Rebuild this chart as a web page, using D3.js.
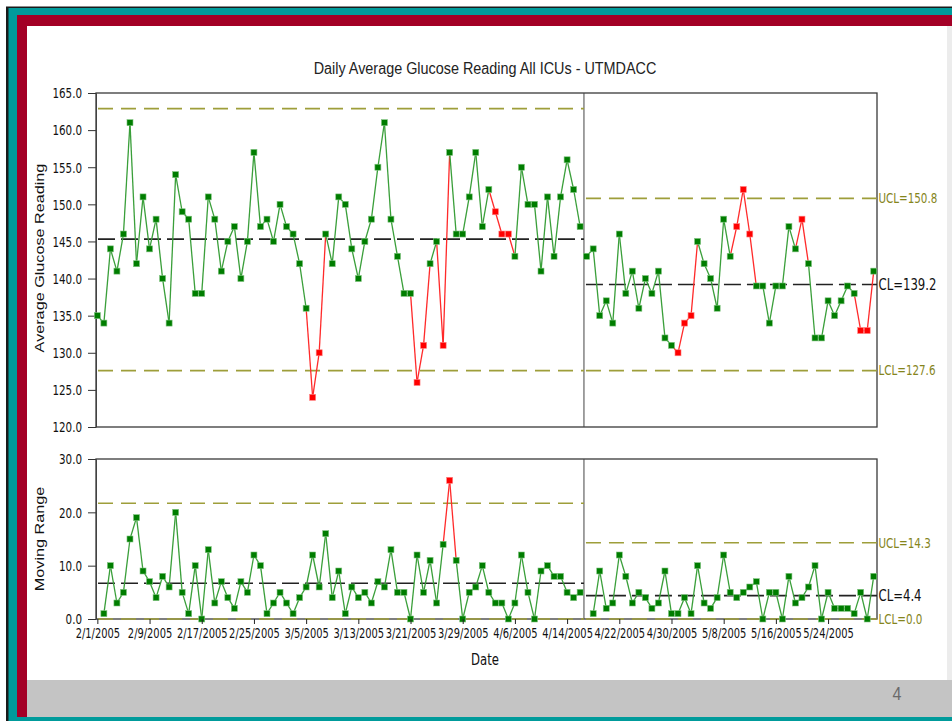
<!DOCTYPE html>
<html>
<head>
<meta charset="utf-8">
<script src="https://cdn.jsdelivr.net/npm/d3@7"></script>
<style>
  body { margin: 0; background: #fff; overflow: hidden; }
  svg { display: block; }
  text { font-family: "Liberation Sans Narrow", "Arial Narrow", "DejaVu Sans Condensed", sans-serif; }
  .reg { font-family: "Liberation Sans", Arial, sans-serif; }
</style>
</head>
<body>
<div id="chart"></div>
<script>
// phase starts (new control limits from 4/17)
const phaseStarts = ["2005-02-01", "2005-04-17"];

// daily average glucose, phase 1: 2/1 - 4/16
const glucosePhase1 = [135, 134, 144, 141, 146, 161, 142, 151, 144, 148,
  140, 134, 154, 149, 148, 138, 138, 151, 148, 141,
  145, 147, 140, 145, 157, 147, 148, 145, 150, 147,
  146, 142, 136, 124, 130, 146, 142, 151, 150, 144,
  140, 145, 148, 155, 161, 148, 143, 138, 138, 126,
  131, 142, 145, 131, 157, 146, 146, 151, 157, 147,
  152, 149, 146, 146, 143, 155, 150, 150, 141, 151,
  143, 151, 156, 152, 147];
// phase 2: 4/17 - 5/31
const glucosePhase2 = [143, 144, 135, 137, 134, 146, 138, 141, 136, 140,
  138, 141, 132, 131, 130, 134, 135, 145, 142, 140,
  136, 148, 143, 147, 152, 146, 139, 139, 134, 139,
  139, 147, 144, 148, 142, 132, 132, 137, 135, 137,
  139, 138, 133, 133, 141];

// moving range, each phase starts the day after its first day
const rangePhase1 = [1, 10, 3, 5, 15, 19, 9, 7, 4, 8,
  6, 20, 5, 1, 10, 0, 13, 3, 7, 4,
  2, 7, 5, 12, 10, 1, 3, 5, 3, 1,
  4, 6, 12, 6, 16, 4, 9, 1, 6, 4,
  5, 3, 7, 6, 13, 5, 5, 0, 12, 5,
  11, 3, 14, 26, 11, 0, 5, 6, 10, 5,
  3, 3, 0, 3, 12, 5, 0, 9, 10, 8,
  8, 5, 4, 5];
const rangePhase2 = [1, 9, 2, 3, 12, 8, 3, 5, 4, 2,
  3, 9, 1, 1, 4, 1, 10, 3, 2, 4,
  12, 5, 4, 5, 6, 7, 0, 5, 5, 0,
  8, 3, 4, 6, 10, 0, 5, 2, 2, 2,
  1, 5, 0, 8];

// out of control points (red)
const glucoseFlagged = ["2005-03-06", "2005-03-07", "2005-03-22", "2005-03-23", "2005-03-26",
  "2005-04-03", "2005-04-04", "2005-04-05", "2005-05-01", "2005-05-02", "2005-05-03",
  "2005-05-10", "2005-05-11", "2005-05-12", "2005-05-20", "2005-05-29", "2005-05-30"];
const rangeFlagged = ["2005-03-27"];

// control limits per phase
const glucoseUCL = [162.9, 150.8];
const glucoseCL = [145.3, 139.2];
const glucoseLCL = [127.6, 127.6];
const rangeUCL = [21.7, 14.3];
const rangeCL = [6.7, 4.4];
const rangeLCL = [0, 0];

const glucoseTicks = [120, 125, 130, 135, 140, 145, 150, 155, 160, 165];
const rangeTicks = [0, 10, 20, 30];
const dateTicks = ["2005-02-01", "2005-02-09", "2005-02-17", "2005-02-25", "2005-03-05",
  "2005-03-13", "2005-03-21", "2005-03-29", "2005-04-06", "2005-04-14", "2005-04-22",
  "2005-04-30", "2005-05-08", "2005-05-16", "2005-05-24"];

const width = 952, height = 721;
const K = 1.2; // the slide is stretched vertically
const plotL = 96, plotR = 877;
const parse = d3.utcParse("%Y-%m-%d");
const iso = d3.utcFormat("%Y-%m-%d");
const fmtDate = d3.utcFormat("%-m/%-d/%Y");
const green = "#3a9f3a", red = "#ff2a2a", olive = "#9e9e3a", oliveText = "#85851c";

var svg = d3.select("#chart").append("svg")
  .attr("width", width)
  .attr("height", height);

// slide frame
svg.append("rect").attr("x", 6).attr("y", 6.5).attr("width", 946).attr("height", 715).attr("fill", "#1a1a1a");
svg.append("rect").attr("x", 8.5).attr("y", 8).attr("width", 944).attr("height", 713).attr("fill", "#009b9b");
svg.append("rect").attr("x", 17).attr("y", 15).attr("width", 935).attr("height", 702).attr("fill", "#a30026");
svg.append("rect").attr("x", 27).attr("y", 26).attr("width", 925).attr("height", 654).attr("fill", "#ececec");
svg.append("rect").attr("x", 27).attr("y", 26).attr("width", 920).attr("height", 654).attr("fill", "#fff");
svg.append("rect").attr("x", 27).attr("y", 680).attr("width", 925).attr("height", 37).attr("fill", "#c4c4c4");
svg.append("text")
  .attr("class", "reg")
  .attr("transform", "translate(897,700) scale(1," + K + ")")
  .attr("text-anchor", "middle")
  .attr("font-size", 16)
  .attr("fill", "#6a6a6a")
  .text("4");

// x scale by date
var t0 = parse(phaseStarts[0]);
var x = d3.scaleUtc()
  .domain([d3.utcHour.offset(t0, -5), d3.utcHour.offset(t0, 119 * 24 + 12)])
  .range([plotL, plotR]);
var splitX = x(d3.utcHour.offset(parse(phaseStarts[1]), -10));

function buildSeries(values, first, flagged) {
  return values.map(function(v, i) {
    var d = d3.utcDay.offset(first, i);
    return { date: d, value: v, flag: flagged.indexOf(iso(d)) >= 0 };
  });
}

function drawPanel(p) {
  var y = d3.scaleLinear().domain(p.domain).range([p.bottom, p.top]);
  var g = svg.append("g");

  // left axis
  var ax = g.append("g")
    .attr("transform", "translate(" + plotL + ",0)")
    .call(d3.axisLeft(y).tickValues(p.ticks).tickFormat(d3.format(".1f")).tickSize(8).tickSizeOuter(0));
  ax.select(".domain").attr("stroke", "#555");
  ax.selectAll(".tick line").attr("stroke", "#333");
  ax.selectAll(".tick text")
    .attr("x", 0).attr("dy", "0.35em")
    .attr("transform", "translate(-14,0) scale(1," + K + ")")
    .attr("font-size", 11.5).attr("fill", "#111");

  // frame and phase split
  g.append("rect")
    .attr("x", plotL).attr("y", p.top)
    .attr("width", plotR - plotL).attr("height", p.bottom - p.top)
    .attr("fill", "none").attr("stroke", "#3a3a3a").attr("stroke-width", 1.3);
  g.append("line")
    .attr("x1", splitX).attr("x2", splitX)
    .attr("y1", p.top).attr("y2", p.bottom)
    .attr("stroke", "#444").attr("stroke-width", 1);

  // control limits
  var spans = [[plotL, splitX], [splitX, plotR]];
  spans.forEach(function(s, i) {
    [[p.ucl[i], olive, "15,8"], [p.lcl[i], olive, "15,8"], [p.cl[i], "#222", "17,6"]].forEach(function(l) {
      g.append("line")
        .attr("x1", s[0] + 2).attr("x2", s[1])
        .attr("y1", y(l[0])).attr("y2", y(l[0]))
        .attr("stroke", l[1]).attr("stroke-width", 1.7)
        .attr("stroke-dasharray", l[2]);
    });
  });
  var labels = [["UCL=", p.ucl[1], oliveText, 11.5], ["CL=", p.cl[1], "#111", 13], ["LCL=", p.lcl[1], oliveText, 11.5]];
  labels.forEach(function(l) {
    g.append("text")
      .attr("transform", "translate(" + (plotR + 1.5) + "," + y(l[1]) + ") scale(1," + K + ")")
      .attr("dy", "0.35em")
      .attr("font-size", l[3])
      .attr("fill", l[2])
      .text(l[0] + d3.format(".1f")(l[1]));
  });

  // series, one per phase
  p.series.forEach(function(pts) {
    for (var i = 1; i < pts.length; i++) {
      var a = pts[i - 1], b = pts[i];
      g.append("line")
        .attr("x1", x(a.date)).attr("y1", y(a.value))
        .attr("x2", x(b.date)).attr("y2", y(b.value))
        .attr("stroke", (a.flag || b.flag) ? red : green)
        .attr("stroke-width", 1.3);
    }
    g.selectAll(null)
      .data(pts)
      .enter()
      .append("rect")
      .attr("x", function(d) { return x(d.date) - 3; })
      .attr("y", function(d) { return y(d.value) - 3; })
      .attr("width", 6)
      .attr("height", 6)
      .attr("fill", function(d) { return d.flag ? "#ff0000" : "#007d00"; })
      .attr("stroke", function(d) { return d.flag ? "#ff8080" : "#7fc47f"; })
      .attr("stroke-width", 0.6);
  });
  return g;
}

var p2 = parse(phaseStarts[1]);

drawPanel({
  domain: [120, 165], top: 93, bottom: 427, ticks: glucoseTicks,
  ucl: glucoseUCL, cl: glucoseCL, lcl: glucoseLCL,
  series: [buildSeries(glucosePhase1, t0, glucoseFlagged), buildSeries(glucosePhase2, p2, glucoseFlagged)]
});

drawPanel({
  domain: [0, 30], top: 459, bottom: 619, ticks: rangeTicks,
  ucl: rangeUCL, cl: rangeCL, lcl: rangeLCL,
  series: [buildSeries(rangePhase1, d3.utcDay.offset(t0, 1), rangeFlagged),
    buildSeries(rangePhase2, d3.utcDay.offset(p2, 1), rangeFlagged)]
});

// date axis
var xAx = svg.append("g")
  .attr("transform", "translate(0,619)")
  .call(d3.axisBottom(x).tickValues(dateTicks.map(parse)).tickFormat(fmtDate).tickSize(5).tickSizeOuter(0));
xAx.select(".domain").remove();
xAx.selectAll(".tick line").attr("stroke", "#222");
xAx.selectAll(".tick text")
  .attr("y", 0).attr("dy", null)
  .attr("transform", "translate(0,19) scale(1," + K + ")")
  .attr("font-size", 11).attr("fill", "#111");

// titles
svg.append("text")
  .attr("class", "reg")
  .attr("transform", "translate(485,74) scale(1," + K + ")")
  .attr("text-anchor", "middle")
  .attr("font-size", 14.4)
  .attr("fill", "#222")
  .text("Daily Average Glucose Reading All ICUs - UTMDACC");

svg.append("text")
  .attr("class", "reg")
  .attr("transform", "translate(44,258) rotate(-90) scale(" + K + ",1)")
  .attr("text-anchor", "middle")
  .attr("font-size", 13.5)
  .attr("fill", "#111")
  .text("Average Glucose Reading");

svg.append("text")
  .attr("class", "reg")
  .attr("transform", "translate(44,539) rotate(-90) scale(" + K + ",1)")
  .attr("text-anchor", "middle")
  .attr("font-size", 13.5)
  .attr("fill", "#111")
  .text("Moving Range");

svg.append("text")
  .attr("transform", "translate(485,665) scale(1," + K + ")")
  .attr("text-anchor", "middle")
  .attr("font-size", 13)
  .attr("fill", "#111")
  .text("Date");
</script>
</body>
</html>
